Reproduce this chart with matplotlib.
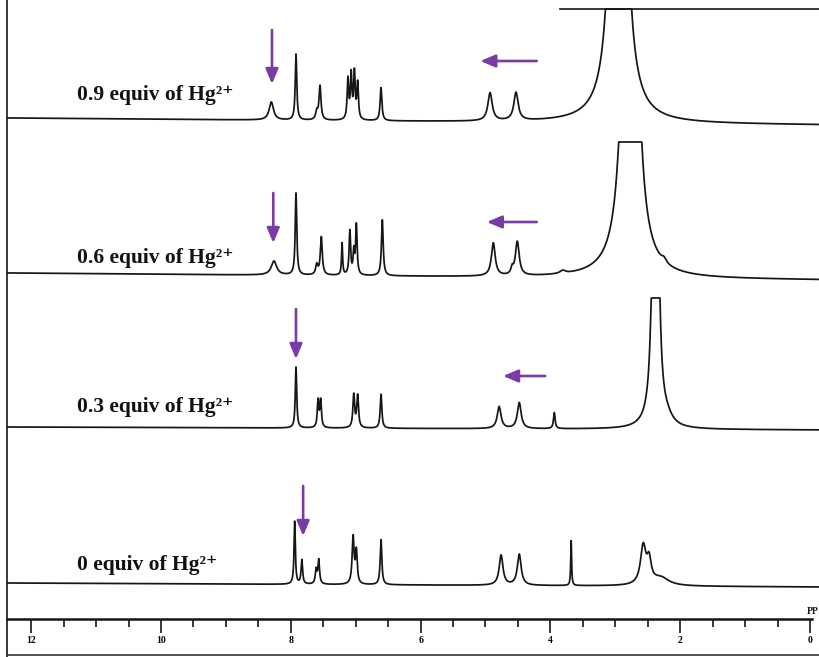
import numpy as np
import matplotlib
matplotlib.use("Agg")
import matplotlib.pyplot as plt
from matplotlib.lines import Line2D

# ---------------- data ----------------
labels = ["0.9 equiv of Hg²⁺", "0.6 equiv of Hg²⁺",
          "0.3 equiv of Hg²⁺", "0 equiv of Hg²⁺"]

# peak lists: chemical shift (ppm), height (px above baseline), half width (ppm)
ppm_09 = [8.30, 7.92, 7.60, 7.55, 7.12, 7.07, 7.02, 6.97, 6.61, 4.93, 4.53, 2.95]
h_09   = [18,   66,   8,    34,   40,   44,   46,   36,   33,   28,   28,   1500]
w_09   = [0.04, 0.014, 0.02, 0.018, 0.014, 0.014, 0.014, 0.014, 0.016, 0.04, 0.04, 0.058]

ppm_06 = [8.26, 7.92, 7.60, 7.53, 7.21, 7.09, 7.03, 6.99, 6.59, 4.88, 4.59, 4.51, 3.81, 2.77, 2.25]
h_06   = [14,   82,   10,   38,   32,   44,   22,   50,   56,   33,   6,    34,   3,    1000, 4]
w_06   = [0.05, 0.014, 0.02, 0.018, 0.010, 0.014, 0.012, 0.014, 0.016, 0.035, 0.02, 0.035, 0.05, 0.071, 0.04]

ppm_03 = [7.92, 7.58, 7.54, 7.03, 6.97, 6.61, 4.79, 4.48, 3.94, 2.38, 2.20]
h_03   = [61,   27,   27,   33,   32,   34,   22,   26,   16,   760,  6]
w_03   = [0.013, 0.014, 0.014, 0.016, 0.016, 0.015, 0.035, 0.035, 0.015, 0.031, 0.10]

ppm_00 = [7.94, 7.83, 7.61, 7.57, 7.04, 6.99, 6.61, 4.76, 4.48, 3.68, 2.57, 2.48, 2.30]
h_00   = [63,   24,   14,   24,   47,   32,   45,   30,   31,   45,   38,   22,   8]
w_00   = [0.012, 0.014, 0.015, 0.015, 0.018, 0.016, 0.015, 0.035, 0.035, 0.008, 0.05, 0.04, 0.15]

spectra = [(ppm_09, h_09, w_09), (ppm_06, h_06, w_06),
           (ppm_03, h_03, w_03), (ppm_00, h_00, w_00)]

x_ticks = [12, 10, 8, 6, 4, 2, 0]

# ---------------- layout (pixel based) ----------------
W, H = 820, 657
AX_BOTTOM_PX = 619          # y pixel of the ppm scale line
baseline_px = [118, 273, 427, 583]
baseline_drop = [7, 7, 3, 4]  # slight tilt of the scanned baselines
clip_top_px = [9, 142, 298, None]  # plotter pen limit (pixel row of flat tops)
label_baseline_px = [100, 263, 412, 570]
label_x_px = 77
purple = "#7a3aa8"
ink = "#161616"

plt.rcParams["font.family"] = ["Liberation Serif", "DejaVu Serif"]

fig = plt.figure(figsize=(W / 100, H / 100), dpi=100)
left_px = 7
ax = fig.add_axes([left_px / W, (H - AX_BOTTOM_PX) / H, (W - left_px) / W, AX_BOTTOM_PX / H])

PX_PER_PPM = 64.9
ppm_left = (810 - left_px) / PX_PER_PPM
ppm_right = (810 - W) / PX_PER_PPM
ax.set_xlim(ppm_left, ppm_right)
ax.set_ylim(0, AX_BOTTOM_PX)

x = np.linspace(ppm_left, ppm_right, 8000)
for (pp, hh, ww), base, drop, clip in zip(spectra, baseline_px, baseline_drop, clip_top_px):
    curve = np.zeros_like(x)
    for p, h, w in zip(pp, hh, ww):
        curve += h * w ** 2 / (w ** 2 + (x - p) ** 2)
    y0 = (AX_BOTTOM_PX - base) - drop * (ppm_left - x) / (ppm_left - ppm_right)
    y = y0 + curve
    if clip is not None:
        y = np.minimum(y, AX_BOTTOM_PX - clip)
    ax.plot(x, y, color=ink, lw=1.25, solid_joinstyle="round")

# labels
for lab, bpx in zip(labels, label_baseline_px):
    ax.text((810 - label_x_px) / PX_PER_PPM, AX_BOTTOM_PX - bpx, lab,
            fontsize=15.5, fontweight="bold", ha="left", va="baseline", color="#111111")

# purple arrows (annotations)
v_arrows = [(8.29, 30, 84), (8.27, 193, 243), (7.92, 309, 359), (7.81, 486, 536)]
h_arrows = [(4.21, 5.08, 61), (4.21, 4.98, 222), (4.08, 4.73, 376)]
aprops = dict(arrowstyle="-|>,head_length=0.45,head_width=0.19", color=purple,
              lw=1.9, mutation_scale=20, shrinkA=0, shrinkB=0)
for xp, ytop, ybot in v_arrows:
    ax.annotate("", xy=(xp, AX_BOTTOM_PX - ybot), xytext=(xp, AX_BOTTOM_PX - ytop),
                arrowprops=aprops)
for x1, x2, ypx in h_arrows:
    ax.annotate("", xy=(x2, AX_BOTTOM_PX - ypx), xytext=(x1, AX_BOTTOM_PX - ypx),
                arrowprops=aprops)

# ppm scale
for s in ["top", "right", "left"]:
    ax.spines[s].set_visible(False)
ax.spines["bottom"].set_linewidth(1.8)
ax.spines["bottom"].set_color(ink)
ax.spines["bottom"].set_bounds(ppm_left, (810 - 812) / PX_PER_PPM)
ax.set_yticks([])
ax.set_xticks(x_ticks)
ax.set_xticklabels([str(t) for t in x_ticks])
ax.set_xticks(np.arange(0, 12.01, 0.5), minor=True)
ax.tick_params(axis="x", which="major", direction="out", length=10, width=1.2,
               color=ink, labelsize=7, pad=2)
ax.tick_params(axis="x", which="minor", direction="out", length=5.5, width=1.2, color=ink)
for t in ax.get_xticklabels():
    t.set_fontweight("bold")
ax.patch.set_alpha(0)
fig.text(1 - 1 / W, (H - 616) / H, "PP", fontsize=7, fontweight="bold",
         ha="right", va="bottom", color=ink)

# frame of the scanned page
fig.add_artist(Line2D([left_px / W, left_px / W], [0, 1], color=ink, lw=1.2))
fig.add_artist(Line2D([left_px / W, 1], [(H - 655) / H, (H - 655) / H], color="#333333", lw=1.2))
fig.add_artist(Line2D([560 / W, 1], [(H - 9) / H, (H - 9) / H], color=ink, lw=1.2))

fig.savefig("out.png", dpi=100)
